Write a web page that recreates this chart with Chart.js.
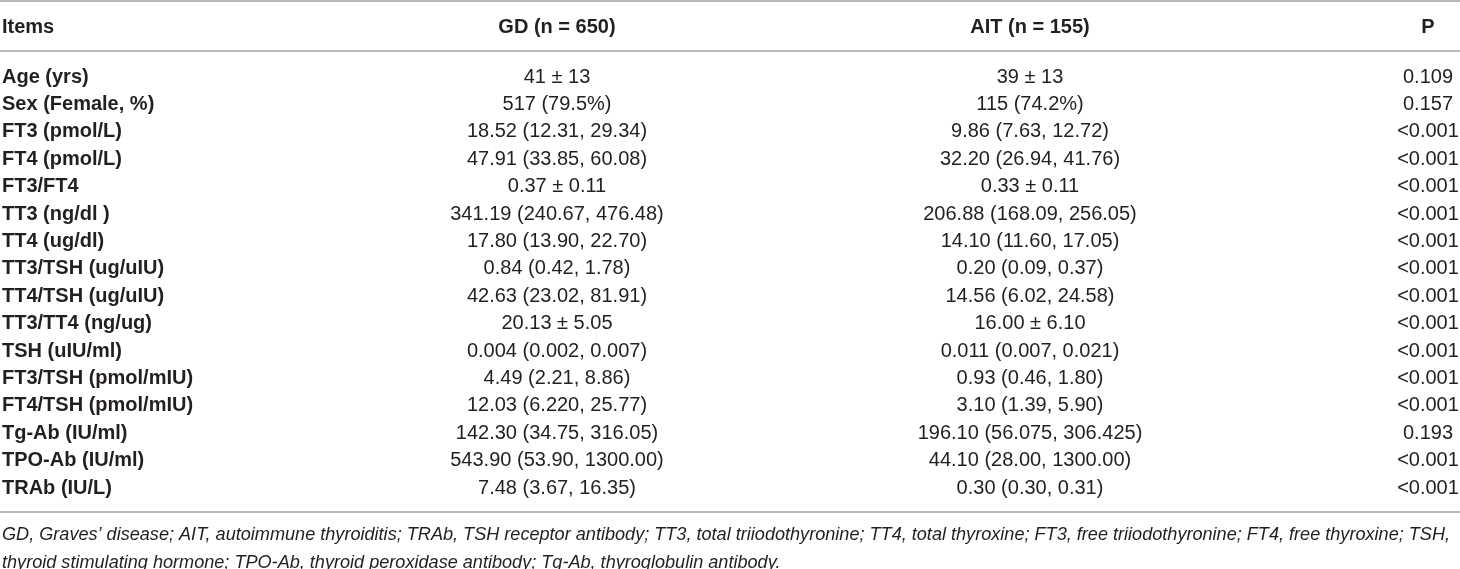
<!DOCTYPE html>
<html>
<head>
<meta charset="utf-8">
<script src="https://cdn.jsdelivr.net/npm/chart.js@4.4.1/dist/chart.umd.min.js"></script>
<style>
  html, body { margin: 0; padding: 0; background: #ffffff; }
  #tableChart { display: block; }
</style>
</head>
<body>
<canvas id="tableChart" width="1460" height="569"></canvas>
<script>
// Table contents
var headers = ['Items', 'GD (n = 650)', 'AIT (n = 155)', 'P'];
var items = [
    'Age (yrs)', 'Sex (Female, %)', 'FT3 (pmol/L)', 'FT4 (pmol/L)', 'FT3/FT4',
    'TT3 (ng/dl )', 'TT4 (ug/dl)', 'TT3/TSH (ug/uIU)', 'TT4/TSH (ug/uIU)',
    'TT3/TT4 (ng/ug)', 'TSH (uIU/ml)', 'FT3/TSH (pmol/mIU)', 'FT4/TSH (pmol/mIU)',
    'Tg-Ab (IU/ml)', 'TPO-Ab (IU/ml)', 'TRAb (IU/L)'
];
var gdValues = [
    '41 ± 13', '517 (79.5%)', '18.52 (12.31, 29.34)', '47.91 (33.85, 60.08)',
    '0.37 ± 0.11', '341.19 (240.67, 476.48)', '17.80 (13.90, 22.70)',
    '0.84 (0.42, 1.78)', '42.63 (23.02, 81.91)', '20.13 ± 5.05',
    '0.004 (0.002, 0.007)', '4.49 (2.21, 8.86)', '12.03 (6.220, 25.77)',
    '142.30 (34.75, 316.05)', '543.90 (53.90, 1300.00)', '7.48 (3.67, 16.35)'
];
var aitValues = [
    '39 ± 13', '115 (74.2%)', '9.86 (7.63, 12.72)', '32.20 (26.94, 41.76)',
    '0.33 ± 0.11', '206.88 (168.09, 256.05)', '14.10 (11.60, 17.05)',
    '0.20 (0.09, 0.37)', '14.56 (6.02, 24.58)', '16.00 ± 6.10',
    '0.011 (0.007, 0.021)', '0.93 (0.46, 1.80)', '3.10 (1.39, 5.90)',
    '196.10 (56.075, 306.425)', '44.10 (28.00, 1300.00)', '0.30 (0.30, 0.31)'
];
var pValues = [
    '0.109', '0.157', '<0.001', '<0.001', '<0.001', '<0.001', '<0.001', '<0.001',
    '<0.001', '<0.001', '<0.001', '<0.001', '<0.001', '0.193', '<0.001', '<0.001'
];
var footnotes = [
    'GD, Graves\u2019 disease; AIT, autoimmune thyroiditis; TRAb, TSH receptor antibody; TT3, total triiodothyronine; TT4, total thyroxine; FT3, free triiodothyronine; FT4, free thyroxine; TSH,',
    'thyroid stimulating hormone; TPO-Ab, thyroid peroxidase antibody; Tg-Ab, thyroglobulin antibody.'
];

// Layout (column anchors on the x scale, alignment, fonts)
var colX = [2, 557, 1030, 1428];
var colAlign = ['left', 'center', 'center', 'center'];
var textColor = '#231f20';
var ruleColor = '#b8b8b8';
var fontFamily = '"Liberation Sans", Arial, Helvetica, sans-serif';

var columns = [items, gdValues, aitValues, pValues];

var datasets = columns.map(function(col, c) {
    return {
        label: headers[c],
        texts: col,
        data: items.map(function(item) { return { x: colX[c], y: item }; }),
        pointRadius: 0,
        pointHoverRadius: 0,
        showLine: false
    };
});

// Draws cell text at the points placed by the scales, plus header, rules, notes
var tablePlugin = {
    id: 'tablePlugin',
    afterDatasetsDraw: function(chart) {
        var ctx = chart.ctx;
        var xScale = chart.scales.x;
        var area = chart.chartArea;
        ctx.save();
        ctx.textBaseline = 'middle';
        ctx.fillStyle = textColor;

        // rules
        ctx.strokeStyle = ruleColor;
        ctx.lineWidth = 2;
        [1, 51, 512].forEach(function(y) {
            ctx.beginPath();
            ctx.moveTo(0, y);
            ctx.lineTo(chart.width, y);
            ctx.stroke();
        });

        // header row
        ctx.font = 'bold 20px ' + fontFamily;
        headers.forEach(function(h, c) {
            ctx.textAlign = colAlign[c];
            ctx.fillText(h, xScale.getPixelForValue(colX[c]), area.top - 36);
        });

        // body cells
        chart.data.datasets.forEach(function(ds, c) {
            var meta = chart.getDatasetMeta(c);
            ctx.font = (c === 0 ? 'bold ' : '') + '20px ' + fontFamily;
            ctx.textAlign = colAlign[c];
            meta.data.forEach(function(pt, r) {
                ctx.fillText(ds.texts[r], pt.x, pt.y);
            });
        });

        // footnotes
        ctx.font = 'italic 19px ' + fontFamily;
        ctx.textAlign = 'left';
        var ratio = Math.min(1, 1448 / ctx.measureText(footnotes[0]).width);
        footnotes.forEach(function(line, i) {
            var w = ctx.measureText(line).width * ratio;
            ctx.fillText(line, 2, 535 + i * 28, w);
        });
        ctx.restore();
    }
};

var ctx = document.getElementById('tableChart').getContext('2d');
var tableChart = new Chart(ctx, {
    type: 'scatter',
    data: { datasets: datasets },
    options: {
        responsive: false,
        animation: false,
        events: [],
        layout: { padding: { top: 63.3, bottom: 67.3, left: 0, right: 0 } },
        plugins: {
            legend: { display: false },
            tooltip: { enabled: false }
        },
        scales: {
            x: { type: 'linear', min: 0, max: 1460, display: false },
            y: { type: 'category', labels: items, offset: true, display: false }
        }
    },
    plugins: [tablePlugin]
});
</script>
</body>
</html>
